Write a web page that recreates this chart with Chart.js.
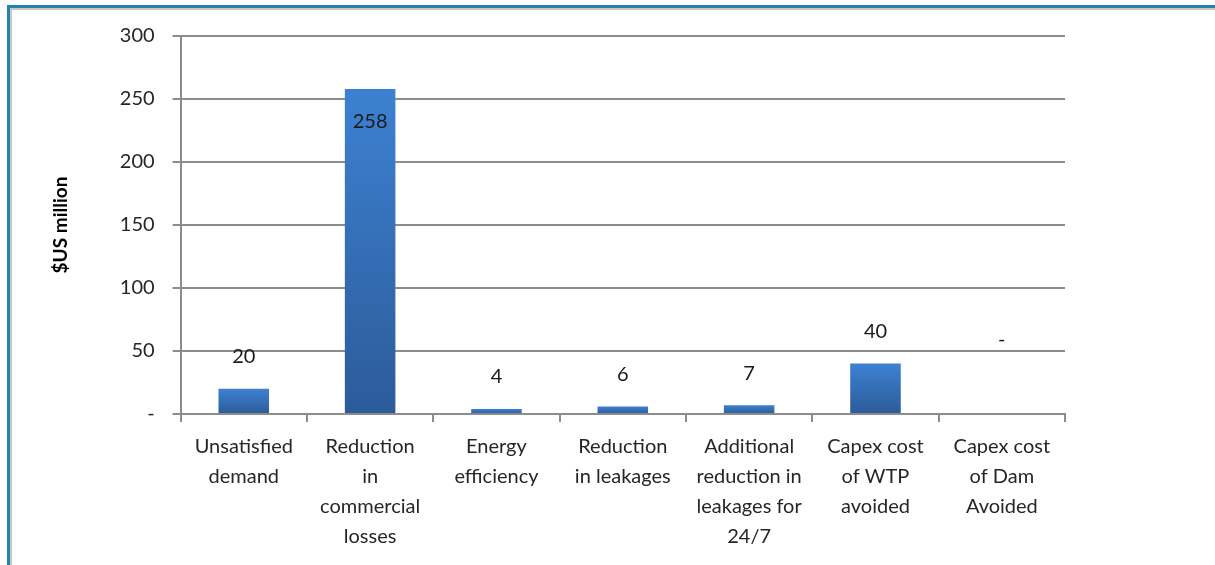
<!DOCTYPE html>
<html>
<head>
<meta charset="utf-8">
<script src="https://cdn.jsdelivr.net/npm/chart.js@4.4.0/dist/chart.umd.min.js"></script>
<style>
  html, body { margin: 0; padding: 0; background: #fff; }
  #wrap { position: relative; width: 1215px; height: 565px; }
  #frame { position: absolute; left: 7px; top: 5px; right: -10px; bottom: -10px;
           border-top: 3px solid #2383ad; border-left: 3px solid #2383ad;
           box-shadow: inset 2px 2px 0 #c8c8c8; pointer-events: none; }
  canvas { position: absolute; left: 0; top: 0; }
</style>
</head>
<body>
<div id="wrap">
  <canvas id="myChart" width="1215" height="565"></canvas>
  <div id="frame"></div>
</div>
<script>
var categories = [
    ["Unsatisfied", "demand"],
    ["Reduction", "in", "commercial", "losses"],
    ["Energy", "efficiency"],
    ["Reduction", "in leakages"],
    ["Additional", "reduction in", "leakages for", "24/7"],
    ["Capex cost", "of WTP", "avoided"],
    ["Capex cost", "of Dam", "Avoided"]
];
var values = [20, 258, 4, 6, 7, 40, 0];
var yTicks = [0, 50, 100, 150, 200, 250, 300];

var font = "Lato, 'Open Sans', sans-serif";

function barGradient(context) {
    var chart = context.chart;
    var y = chart.scales.y;
    if (!chart.chartArea || !y) return '#3470b8';
    var v = context.raw || 0;
    var top = y.getPixelForValue(v), bottom = y.getPixelForValue(0);
    if (bottom - top < 1) return '#3470b8';
    var g = chart.ctx.createLinearGradient(0, top, 0, bottom);
    g.addColorStop(0, '#3d81d2');
    g.addColorStop(1, '#2c5b99');
    return g;
}

// value labels, drawn above each bar (inside the tall one), Excel style
var valueLabels = {
    id: 'valueLabels',
    afterDatasetsDraw: function (chart) {
        var ctx = chart.ctx, meta = chart.getDatasetMeta(0), y = chart.scales.y;
        ctx.save();
        ctx.font = "20px " + font;
        ctx.fillStyle = '#1a1a1a';
        ctx.textAlign = 'center';
        ctx.textBaseline = 'middle';
        meta.data.forEach(function (bar, i) {
            var v = values[i];
            var txt = v === 0 ? '-' : String(v);
            var ty = bar.y - 32;
            if (v === 0) ty = y.getPixelForValue(0) - 74;
            if (ty < chart.chartArea.top + 40) ty = bar.y + 33;
            ctx.fillText(txt, bar.x, ty);
        });
        ctx.restore();
    }
};

var ctx = document.getElementById('myChart').getContext('2d');
var myChart = new Chart(ctx, {
    type: 'bar',
    data: {
        labels: categories,
        datasets: [{
            data: values,
            backgroundColor: barGradient,
            borderWidth: 0,
            barPercentage: 0.4,
            categoryPercentage: 1.0
        }]
    },
    options: {
        responsive: false,
        animation: false,
        layout: { padding: { left: 45, right: 150, top: 36, bottom: 3 } },
        plugins: { legend: { display: false }, tooltip: { enabled: false } },
        scales: {
            x: {
                offset: true,
                grid: { offset: true, drawOnChartArea: false, color: '#8c8c8c', lineWidth: 2, tickLength: 8 },
                border: { color: '#8c8c8c', width: 2 },
                ticks: { color: '#262626', font: { family: font, size: 20, lineHeight: 1.5 }, maxRotation: 0, autoSkip: false, padding: 10 }
            },
            y: {
                min: 0, max: 300,
                afterBuildTicks: function (axis) {
                    axis.ticks = yTicks.map(function (v) { return { value: v }; });
                },
                grid: { color: '#8c8c8c', lineWidth: 2, tickLength: 8 },
                border: { color: '#8c8c8c', width: 2 },
                ticks: {
                    color: '#262626', font: { family: font, size: 20 }, padding: 18,
                    callback: function (v) { return v === 0 ? '-' : v; }
                },
                title: {
                    display: true, text: '$US million', color: '#000',
                    font: { family: font, size: 19, weight: 'bold' }, padding: { bottom: 30 }
                }
            }
        }
    },
    plugins: [valueLabels]
});
</script>
</body>
</html>
